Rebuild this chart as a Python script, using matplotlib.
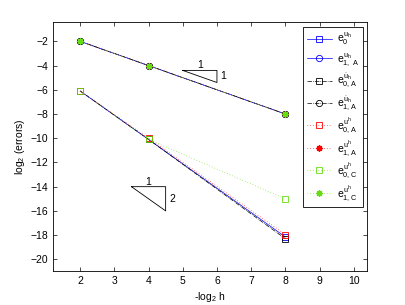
import matplotlib
matplotlib.use("Agg")
import matplotlib.pyplot as plt
import numpy as np

plt.rcParams['font.family'] = ['Liberation Sans', 'DejaVu Sans']
plt.rcParams['mathtext.fontset'] = 'custom'
plt.rcParams['mathtext.rm'] = 'Liberation Sans'
plt.rcParams['mathtext.it'] = 'Liberation Sans'

# -log2 h
h = [2, 4, 8]

# log2 of errors
e0_uh = [-6.1, -10.1, -18.15]
e1A_uh = [-2.0, -4.0, -8.0]
e0A_duh = [-6.1, -10.1, -18.3]
e1A_duh = [-2.0, -4.0, -8.0]
e0A_uhh = [-6.1, -10.0, -17.95]
e1A_uhh = [-2.0, -4.0, -8.0]
e0C_uhh = [-6.1, -10.1, -15.0]
e1C_uhh = [-2.0, -4.0, -8.0]

labels = [r'$e_0^{u_h}$', r'$e_{1,\ A}^{u_h}$',
          r'$e_{0,A}^{\dot{u}_h}$', r'$e_{1,A}^{\dot{u}_h}$',
          r'$e_{0,A}^{u^h}$', r'$e_{1,A}^{u^h}$',
          r'$e_{0,C}^{u^h}$', r'$e_{1,C}^{u^h}$']

green = '#66dd11'
dot = (0, (1, 3))
star = (8, 2, 0)  # matlab-like asterisk
fig = plt.figure(figsize=(4.06, 3.05), dpi=100)
ax = fig.add_axes([0.13, 0.11, 0.775, 0.818])

lw = 0.5
ms = 4.5
ax.plot(h, e0_uh, color='b', ls='-', lw=lw, marker='s', ms=ms, mfc='none', mew=0.6, label=labels[0])
ax.plot(h, e1A_uh, color='b', ls='-', lw=lw, marker='o', ms=ms, mfc='none', mew=0.6, label=labels[1])
ax.plot(h, e0A_duh, color='k', ls='-.', lw=lw, marker='s', ms=ms, mfc='none', mew=0.6, label=labels[2])
ax.plot(h, e1A_duh, color='k', ls='-.', lw=lw, marker='o', ms=ms, mfc='none', mew=0.6, label=labels[3])
ax.plot(h, e0A_uhh, color='r', ls=dot, lw=lw, marker='s', ms=ms, mfc='none', mew=0.6, label=labels[4])
ax.plot(h, e1A_uhh, color='r', ls=dot, lw=lw, marker=star, ms=ms, mew=1.0, label=labels[5])
ax.plot(h, e0C_uhh, color=green, ls=dot, lw=lw, marker='s', ms=ms, mfc='none', mew=0.6, label=labels[6])
ax.plot(h, e1C_uhh, color=green, ls=dot, lw=lw, marker=star, ms=ms, mew=1.0, label=labels[7])

# slope triangles
ax.plot([5, 6, 6, 5], [-4.4, -4.4, -5.4, -4.4], color='k', lw=0.6)
ax.text(5.5, -4.4, '1', ha='center', va='bottom', fontsize=7.5)
ax.text(6.1, -4.9, '1', ha='left', va='center', fontsize=7.5)
ax.plot([3.5, 4.5, 4.5, 3.5], [-14, -14, -16, -14], color='k', lw=0.6)
ax.text(4.0, -14, '1', ha='center', va='bottom', fontsize=7.5)
ax.text(4.6, -15, '2', ha='left', va='center', fontsize=7.5)

ax.set_xlim(1.2, 10.4)
ax.set_ylim(-21, -0.4)
ax.set_xticks(range(2, 11))
ax.set_yticks(range(-20, -1, 2))
ax.tick_params(direction='in', top=True, right=True, labelsize=7.5, length=3, width=0.5)
for s in ax.spines.values():
    s.set_linewidth(0.6)
ax.set_xlabel(r'-log$_2$ h', fontsize=7.5, labelpad=3)
ax.set_ylabel(r'log$_2$ (errors)', fontsize=7.5, labelpad=2)

leg = ax.legend(loc='upper right', bbox_to_anchor=(0.986, 0.98), borderaxespad=0,
                fontsize=7.5, fancybox=False, edgecolor='k', framealpha=1,
                handlelength=2.4, labelspacing=0.36, borderpad=0.4, handletextpad=0.5)
leg.get_frame().set_linewidth(0.6)

fig.savefig("out.png", dpi=100)
